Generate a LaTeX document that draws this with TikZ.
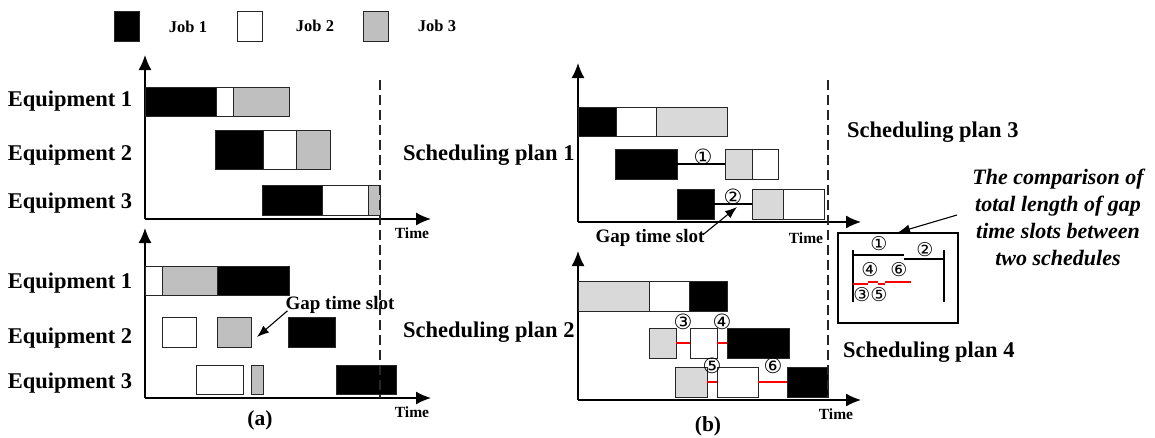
\documentclass[tikz,border=0pt]{standalone}
\usepackage{fontspec}
\setmainfont{Liberation Serif}
\newfontfamily\circfont{DejaVu Sans}
\usetikzlibrary{arrows.meta}

% one box of a Gantt chart: name, style, x1, x2, y1, y2 (pixel-like units, y downwards)
\newcommand\jobbox[6]{%
  \node[#2, minimum width={(#4)-(#3)}, minimum height={(#6)-(#5)}] (#1)
    at ({((#3)+(#4))/2},{((#5)+(#6))/2}) {};}

\definecolor{jobgray}{HTML}{BFBFBF}
\definecolor{jobgraylt}{HTML}{D9D9D9}

\tikzset{
  box/.style={draw=black!85, line width=1pt, inner sep=0pt, outer sep=0pt},
  jobA/.style={box, fill=black},
  jobB/.style={box, fill=white},
  jobC/.style={box, fill=jobgray},
  jobCl/.style={box, fill=jobgraylt},
  axis/.style={line width=1.4pt, -{Latex[length=15pt,width=13pt]}},
  due/.style={line width=1.1pt, dash pattern=on 10pt off 5pt, black!85},
  biglab/.style={font=\fontsize{22.5}{27}\selectfont\bfseries, inner sep=0pt},
  caplab/.style={font=\fontsize{21.5}{26}\selectfont\bfseries, inner sep=0pt},
  midlab/.style={font=\fontsize{19}{22}\selectfont\bfseries, inner sep=0pt},
  leglab/.style={font=\fontsize{16.5}{20}\selectfont\bfseries, inner sep=0pt},
  timelab/.style={font=\fontsize{15.5}{18}\selectfont\bfseries, inner sep=0pt},
  num/.style={font=\fontsize{21}{21}\selectfont\circfont, inner sep=0pt},
  smallnum/.style={font=\fontsize{19}{19}\selectfont\circfont, inner sep=0pt},
  gapblack/.style={line width=2.2pt, black},
  gapred/.style={line width=2.4pt, red},
  pointer/.style={line width=1.1pt, -{Latex[length=12pt,width=9pt]}},
}

\begin{document}
\begin{tikzpicture}[x=1pt, y=-1pt]
\useasboundingbox (0,0) rectangle (1155,437);

% ---------- legend ----------
\jobbox{legA}{jobA}{114}{139}{11}{41}
\jobbox{legB}{jobB}{237}{262}{11}{41}
\jobbox{legC}{jobC}{363}{388}{11}{41}
\node[leglab] (legAt) at (188,27) {Job 1};
\node[leglab] (legBt) at (315,26) {Job 2};
\node[leglab] (legCt) at (437,26) {Job 3};

% ---------- (a) upper chart ----------
\coordinate (aO) at (145,219);
\coordinate (aY) at (145,55);
\coordinate (aX) at (431,219);
\draw[axis] (aO) -- (aY);
\draw[axis] (aO) -- (aX);
\node[timelab] (aTime) at (412,233) {Time};

\jobbox{a11}{jobA}{145}{216}{87}{116}
\jobbox{a12}{jobB}{216}{233}{87}{116}
\jobbox{a13}{jobC}{233}{289}{87}{116}
\jobbox{a21}{jobA}{215}{263}{130}{169}
\jobbox{a22}{jobB}{263}{296}{130}{169}
\jobbox{a23}{jobC}{296}{330}{130}{169}
\jobbox{a31}{jobA}{262}{322}{185}{215}
\jobbox{a32}{jobB}{322}{368}{185}{215}
\jobbox{a33}{jobC}{368}{380}{185}{215}

\node[biglab] (aE1) at (70,101) {Equipment 1};
\node[biglab] (aE2) at (70,155) {Equipment 2};
\node[biglab] (aE3) at (70,203) {Equipment 3};

% ---------- (a) lower chart ----------
\coordinate (bO) at (145,398);
\coordinate (bY) at (145,228);
\coordinate (bX) at (431,398);
\draw[axis] (bO) -- (bY);
\draw[axis] (bO) -- (bX);
\node[timelab] (bTime) at (412,412) {Time};

\jobbox{b11}{jobB}{145}{162}{266}{295}
\jobbox{b12}{jobC}{162}{217}{266}{295}
\jobbox{b13}{jobA}{217}{289}{266}{295}
\jobbox{b21}{jobB}{162}{196}{317}{347}
\jobbox{b22}{jobC}{217}{251}{317}{347}
\jobbox{b23}{jobA}{288}{335}{317}{347}
\jobbox{b31}{jobB}{196}{243}{365}{394}
\jobbox{b32}{jobC}{251}{263}{365}{394}
\jobbox{b33}{jobA}{336}{396}{365}{394}

\node[biglab] (bE1) at (70,283) {Equipment 1};
\node[biglab] (bE2) at (70,338) {Equipment 2};
\node[biglab] (bE3) at (70,383) {Equipment 3};

\node[midlab] (bGap) at (340,305) {Gap time slot};
\coordinate (bGapTip) at (257,337);
\draw[pointer] (bGap.south west) ++(2,-3) coordinate (bGapTail) -- (bGapTip);

\node[caplab] (capA) at (260,420) {(a)};

% due line of (a)
\coordinate (aD1) at (380,80);
\coordinate (aD2) at (380,398);
\draw[due] (aD1) -- (aD2);

% ---------- (b) upper chart ----------
\coordinate (cO) at (578,222);
\coordinate (cY) at (578,63);
\coordinate (cX) at (861,222);
\draw[axis] (cO) -- (cY);
\draw[axis] (cO) -- (cX);
\node[timelab] (cTime) at (806,238) {Time};

\jobbox{c11}{jobA}{578}{616}{107}{136}
\jobbox{c12}{jobB}{616}{656}{107}{136}
\jobbox{c13}{jobCl}{656}{727}{107}{136}
\jobbox{c21}{jobA}{615}{677}{149}{179}
\jobbox{c22}{jobCl}{725}{752}{149}{179}
\jobbox{c23}{jobB}{752}{778}{149}{179}
\jobbox{c31}{jobA}{677}{714}{189}{219}
\jobbox{c32}{jobCl}{752}{783}{189}{219}
\jobbox{c33}{jobB}{783}{824}{189}{219}
\draw[gapblack] (c21.east) -- (c22.west);
\draw[gapblack] (c31.east) -- (c32.west);
\node[num] (n1) at (703,157) {①};
\node[num] (n2) at (733,197) {②};

\node[biglab, anchor=west] (plan1) at (403,155) {Scheduling plan 1};
\node[midlab] (cGap) at (650,238) {Gap time slot};
\coordinate (cGapTip) at (737,207);
\draw[pointer] (cGap.east) ++(-2,-3) coordinate (cGapTail) -- (cGapTip);

% ---------- (b) lower chart ----------
\coordinate (dO) at (578,400);
\coordinate (dY) at (578,251);
\coordinate (dX) at (861,400);
\draw[axis] (dO) -- (dY);
\draw[axis] (dO) -- (dX);
\node[timelab] (dTime) at (836,414) {Time};

\jobbox{d11}{jobCl}{578}{649}{281}{311}
\jobbox{d12}{jobB}{649}{689}{281}{311}
\jobbox{d13}{jobA}{689}{727}{281}{311}
\jobbox{d21}{jobCl}{649}{676}{328}{358}
\jobbox{d22}{jobB}{690}{717}{328}{358}
\jobbox{d23}{jobA}{727}{789}{328}{358}
\jobbox{d31}{jobCl}{675}{707}{367}{397}
\jobbox{d32}{jobB}{717}{758}{367}{397}
\jobbox{d33}{jobA}{787}{828}{367}{397}
\draw[gapred] (d21.east) -- (d22.west);
\draw[gapred] (d22.east) -- (d23.west);
\draw[gapred] (d31.east) -- (d32.west);
\draw[gapred] (d32.east) -- (d33.west);
\node[num] (n3) at (683,322) {③};
\node[num] (n4) at (722,322) {④};
\node[num] (n5) at (712,366) {⑤};
\node[num] (n6) at (773,366) {⑥};

\node[biglab, anchor=west] (plan2) at (403,332) {Scheduling plan 2};
\node[caplab] (capB) at (708,426) {(b)};

% due line of (b)
\coordinate (cD1) at (828,80);
\coordinate (cD2) at (828,398);
\draw[due] (cD1) -- (cD2);

% ---------- comparison of gap lengths ----------
\node[biglab, anchor=west] (plan3) at (847,132) {Scheduling plan 3};
\node[biglab, anchor=west] (plan4) at (843,352) {Scheduling plan 4};

\node[draw, line width=1.2pt, minimum width=120, minimum height=90, inner sep=0pt]
  (cmp) at (898,278) {};

\coordinate (kL1) at (853,250); \coordinate (kL2) at (853,302);
\coordinate (kR1) at (944,250); \coordinate (kR2) at (944,302);
\draw[line width=1.2pt] (kL1) -- (kL2);
\draw[line width=1.2pt] (kR1) -- (kR2);
\coordinate (k1a) at (853,255); \coordinate (k1b) at (904,255);
\coordinate (k2a) at (904,259); \coordinate (k2b) at (944,259);
\draw[line width=1.8pt] (k1a) -- (k1b);
\draw[line width=1.8pt] (k2a) -- (k2b);
\coordinate (r3a) at (853,284); \coordinate (r3b) at (868,284);
\coordinate (r4a) at (868,282); \coordinate (r4b) at (878,282);
\coordinate (r5a) at (878,284); \coordinate (r5b) at (885,284);
\coordinate (r6a) at (885,282); \coordinate (r6b) at (911,282);
\draw[line width=1.6pt, red] (r3a) -- (r3b);
\draw[line width=1.6pt, red] (r4a) -- (r4b);
\draw[line width=1.6pt, red] (r5a) -- (r5b);
\draw[line width=1.6pt, red] (r6a) -- (r6b);
\node[smallnum] (m1) at (879,244) {①};
\node[smallnum] (m2) at (925,250) {②};
\node[smallnum] (m4) at (870,270) {④};
\node[smallnum] (m6) at (899,270) {⑥};
\node[smallnum] (m3) at (862,295) {③};
\node[smallnum] (m5) at (879,295) {⑤};

\node[font=\fontsize{22}{27}\selectfont\bfseries\itshape, align=center, inner sep=0pt]
  (note) at (1058,217) {The comparison of\\total length of gap\\time slots between\\two schedules};
\coordinate (noteTail) at (957,215);
\draw[pointer] (noteTail) -- (cmp.north);
\end{tikzpicture}
\end{document}
